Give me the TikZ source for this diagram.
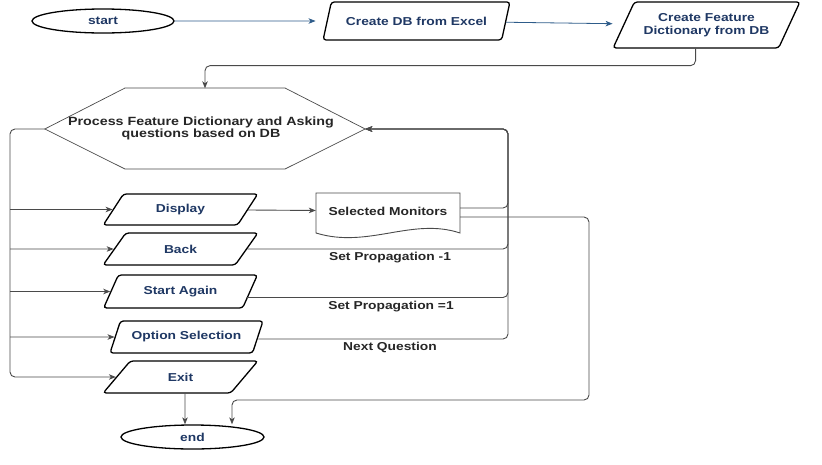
\documentclass[tikz,border=0pt]{standalone}
\usepackage{fontspec}
\setmainfont{Liberation Sans}[FakeStretch=1.2]
\usetikzlibrary{shapes.geometric,arrows.meta}
\definecolor{navy}{HTML}{1F3864}
\definecolor{flowblue}{HTML}{2E5C8A}
\definecolor{wiregray}{HTML}{4A4A4A}
\begin{document}
\begin{tikzpicture}[x=1pt,y=-1pt,
  every node/.style={font=\fontsize{11.5}{12.5}\selectfont\bfseries},
  io/.style={trapezium, trapezium left angle=51, trapezium right angle=129,
    trapezium stretches=true, draw=black, line width=1.3pt, rounded corners=3pt,
    fill=white, text=navy, inner sep=0pt, align=center},
  term/.style={ellipse, draw=black, line width=1.3pt, fill=white, text=navy, inner sep=0pt},
  wire/.style={draw=wiregray, line width=0.9pt, rounded corners=5pt},
  flow/.style={draw=flowblue, line width=0.8pt},
  tip/.style={-{Stealth[length=7pt,width=5.5pt,inset=2pt]}},
  lbl/.style={text=black!85, inner sep=0pt},
  edgelbl/.style={lbl}
]
\useasboundingbox (0,0) rectangle (822,464);

% terminals and input/output steps
\node[term, minimum width=142, minimum height=24] (start) at (103,21) {start};
\node[io, minimum width=187, minimum height=38] (db) at (416.5,21) {Create DB from Excel};
\node[io, minimum width=187, minimum height=46] (feat) at (706.5,25) {Create Feature\\Dictionary from DB};

% processing hexagon
\node[minimum width=320, minimum height=81, inner sep=0pt, align=center] (proc) at (205,129) {};
\draw[draw=wiregray, line width=0.7pt] (125,88) -- (285,88) -- (proc.east) -- (285,169) -- (125,169) -- (proc.west) -- cycle;
\node[lbl, align=center, font=\fontsize{11.9}{12.5}\selectfont\bfseries] (proctxt) at (201,128.5)
  {Process Feature Dictionary and Asking\\questions based on DB};

\node[io, minimum width=155, minimum height=31] (disp) at (180.5,209.5) {Display};
\node[io, minimum width=155, minimum height=32] (back) at (180.5,249) {Back};
\node[io, minimum width=155, minimum height=33] (again) at (180.5,291.5) {Start Again};
\node[io, minimum width=153, minimum height=32] (opt) at (186.5,337) {Option Selection};
\node[io, minimum width=155, minimum height=32] (exit) at (180.5,377) {Exit};
\node[term, minimum width=143, minimum height=24] (end) at (192.5,437) {end};

% document: selected monitors
\node[minimum width=144, minimum height=36, inner sep=0pt] (sel) at (388,211) {};
\draw[draw=wiregray, line width=0.9pt, fill=white] (316,193) -- (460,193) -- (460,233)
  .. controls (412,217) and (368,249) .. (316,233) -- cycle;
\node[lbl] (seltxt) at (388,211) {Selected Monitors};

% routing points
\coordinate (bus) at (10,129);
\coordinate (rail) at (508,129);
\coordinate (drop) at (589,400);

% main chain
\draw[flow, tip, shorten >=11pt] (start) -- (db);
\draw[flow, tip, shorten >=11pt] (db) -- (feat);
\draw[wire, tip] (feat.bottom side) -- ++(0,17) -| (proc.north);

% menu bus on the left
\draw[wire, tip] (proc.west) -- (bus) |- (exit);
\draw[wire, tip] (bus |- disp) -- (disp);
\draw[wire, tip] (bus |- back) -- (back);
\draw[wire, tip] (bus |- again) -- (again);
\draw[wire, tip] (bus |- opt) -- (opt);

% display output
\draw[wire, tip] (disp) -- (sel);

% loops back to the question step
\draw[wire, tip] ([yshift=3pt]sel.east) -| (rail) -- (proc.east);
\draw[wire, tip] (back.east) -| (rail) -- (proc.east);
\draw[wire, tip] ([shift={(-4,6)}]again.east) -| (rail) -- (proc.east);
\draw[wire, tip] ([yshift=-2pt]opt.east) -| (rail) -- (proc.east);

\node[edgelbl] (l1) at (390,258) {Set Propagation -1};
\node[edgelbl] (l2) at (391,307) {Set Propagation =1};
\node[edgelbl] (l3) at (390,347) {Next Question};

% exits
\draw[wire, tip] ([yshift=-6pt]sel.east) -| (drop) -| ([xshift=39.5pt]end.north);
\draw[wire, tip] ([xshift=4.5pt]exit.south) -- ([xshift=-7.5pt]end.north);
\end{tikzpicture}
\end{document}
